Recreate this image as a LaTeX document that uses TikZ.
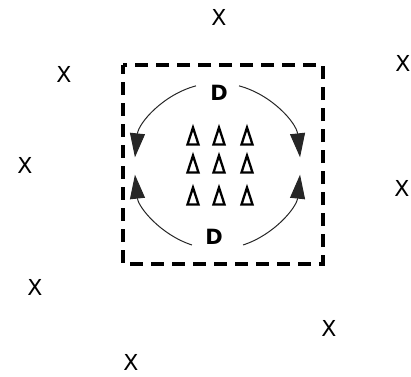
\documentclass[tikz,border=0pt]{standalone}
\usepackage{fontspec}
\setmainfont{DejaVu Sans}
\usetikzlibrary{arrows.meta}
\begin{document}
\begin{tikzpicture}[x=1pt,y=-1pt,
  mark x/.style={font=\fontsize{22}{22}\selectfont, inner sep=0pt},
  dlabel/.style={font=\bfseries\fontsize{21}{21}\selectfont, inner sep=0pt},
  tri/.style={line width=2.3pt, line join=miter},
  flow/.style={line width=1pt, draw=black!85, -{Triangle[length=24pt,width=15pt]}}]
\useasboundingbox (0,0) rectangle (411,376);
% dashed field
\draw[line width=3.5pt, dash pattern=on 13pt off 8pt, dash phase=4pt] (123,65) rectangle (323,264);
% X markers
\node[mark x] (x1) at (219,17) {X};
\node[mark x] (x2) at (64,74) {X};
\node[mark x] (x3) at (403,63) {X};
\node[mark x] (x4) at (25,165) {X};
\node[mark x] (x5) at (402,188) {X};
\node[mark x] (x6) at (35,287) {X};
\node[mark x] (x7) at (329,328) {X};
\node[mark x] (x8) at (131,362) {X};
% D labels
\node[dlabel] (dt) at (219,93) {D};
\node[dlabel] (db) at (214,237) {D};
% triangles
\foreach \cx in {193,219,247}{
  \foreach \cy in {136,164,196}{
    \draw[tri] (\cx-5.5,\cy+8.5) -- (\cx,\cy-8.5) -- (\cx+5.5,\cy+8.5) -- cycle;
  }
}
% circulation arrows
\coordinate (c) at (217.5,166);
\draw[flow] (c) ++(105:83 and -83) arc[start angle=105, end angle=174, x radius=83, y radius=-83];
\draw[flow] (c) ++(75:83 and -83) arc[start angle=75, end angle=6, x radius=83, y radius=-83];
\draw[flow] (c) ++(252:83 and -83) arc[start angle=252, end angle=186, x radius=83, y radius=-83];
\draw[flow] (c) ++(288:83 and -83) arc[start angle=288, end angle=354, x radius=83, y radius=-83];
\end{tikzpicture}
\end{document}
